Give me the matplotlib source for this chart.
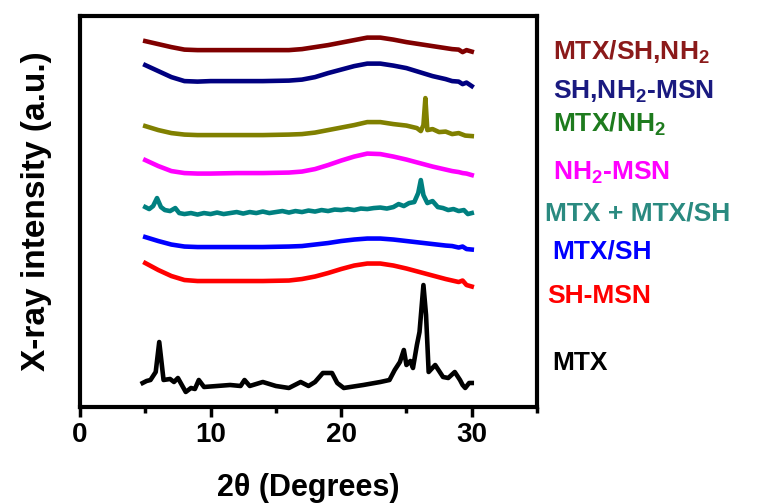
#!/usr/bin/env python
import matplotlib
matplotlib.use("Agg")
import matplotlib.pyplot as plt
from matplotlib.ticker import MultipleLocator

plt.rcParams['font.family'] = ['Liberation Sans', 'DejaVu Sans']
plt.rcParams['font.weight'] = 'bold'
plt.rcParams['mathtext.fontset'] = 'custom'
plt.rcParams['mathtext.rm'] = 'Liberation Sans:bold'
plt.rcParams['mathtext.bf'] = 'Liberation Sans:bold'

# XRD patterns (2theta in degrees, intensity in a.u. incl. vertical stacking offset)
x_smooth = [5, 6, 7, 8, 9, 10, 12, 14, 16, 17, 18, 19, 20, 21, 22, 23, 24, 25, 26, 27, 28, 28.5, 29, 29.3,
            29.6, 30]

mtx_sh_nh2 = [366, 363, 360, 357.5, 357, 357, 357, 357, 357, 358, 360, 362, 364.5, 367, 369.5, 369.5,
              367.5, 365, 363, 361, 359, 358, 357.5, 355, 357, 355.5]
sh_nh2_msn = [342, 336, 330, 326, 325.5, 326, 326, 326, 326.5, 327.5, 330, 334, 337.5, 341, 343.5, 343.5,
              341.5, 339, 335, 331, 328, 326, 325.5, 323, 324.5, 321]
nh2_msn = [247, 241, 236, 234, 233.5, 233.5, 234, 234, 234.5, 235.5, 238, 242, 246.5, 250.5, 253.5, 253,
           250.5, 247.5, 244, 240.5, 237.5, 236, 235, 234, 233.5, 232]
mtx_sh = [170, 166, 162.5, 160.5, 160, 160, 160, 160, 160.5, 161, 162.5, 164, 166, 167.5, 168.5, 168.5,
          167.5, 166, 164.5, 163, 161.5, 161, 159.5, 160.5, 158, 157.5]
sh_msn = [144, 137, 131, 127, 126, 126, 126, 126, 126.5, 128, 130.5, 134, 138, 141.5, 143.5, 143.5,
          141.5, 138.5, 135, 131.5, 128, 126.5, 125, 126.5, 122, 120.5]

x_mtx_nh2 = [5, 6, 7, 8, 9, 10, 12, 14, 16, 17, 18, 19, 20, 21, 22, 23, 24, 25, 25.8, 26.1, 26.3, 26.45,
             26.6, 27, 27.5, 28, 28.5, 29, 29.5, 30]
mtx_nh2 = [281, 277, 274, 272.5, 272, 272, 272, 272, 272.5, 273, 274.5, 277, 279.5, 282, 285, 285, 283,
           281.5, 279, 276, 282, 309, 277, 278, 275, 275.5, 273, 274, 271.5, 271]

x_mix = [5, 5.3, 5.6, 5.9, 6.2, 6.5, 6.9, 7.3, 7.6, 8, 8.5, 9, 9.5, 10, 10.5, 11, 11.5, 12, 12.5, 13,
         13.5, 14, 14.5, 15, 15.5, 16, 16.5, 17, 17.5, 18, 18.5, 19, 19.5, 20, 20.5, 21, 21.5, 22, 22.5,
         23, 23.5, 24, 24.4, 24.8, 25.2, 25.6, 25.9, 26.1, 26.3, 26.6, 27, 27.4, 27.8, 28.2, 28.6, 29,
         29.4, 29.7, 30]
mtx_mix = [200, 198, 201, 209, 200, 197, 196, 199, 194, 193, 194, 192.5, 194, 193, 194.5, 193, 194, 195,
           193.5, 195, 194, 195.5, 194, 195, 196, 194.5, 196, 195, 196.5, 195.5, 197, 196, 197.5, 197,
           198, 197, 198.5, 198, 199, 199.5, 198.5, 200, 203, 201, 204, 205, 214, 227, 212, 204, 206, 200,
           199, 197, 198, 196, 197, 193, 194]

x_mtx = [4.8, 5.1, 5.4, 5.8, 6.07, 6.4, 6.9, 7.2, 7.5, 8.1, 8.5, 8.8, 9.1, 9.5, 10.5, 11.5, 12.3, 12.6,
         13, 14, 15, 16, 16.9, 17.5, 18, 18.6, 19.3, 19.7, 20.2, 21.7, 23, 23.7, 24.1, 24.5, 24.8, 25.0,
         25.3, 25.5, 25.8, 26.0, 26.3, 26.5, 26.7, 27.2, 27.5, 27.8, 28.2, 28.7, 29.1, 29.3, 29.5, 29.8, 30]
mtx = [24, 26, 27, 35, 65, 27, 28, 25, 29, 15, 19, 18, 27, 20, 21, 22, 21, 27, 21, 25, 21, 19, 25, 21, 25,
       34, 34, 24, 19, 22, 25, 27, 37, 45, 57, 42, 46, 39, 62, 75, 122, 92, 35, 42, 36, 30, 29, 35, 27,
       22, 19, 24, 24]

curves = [
    (x_smooth, mtx_sh_nh2, '#800000'),
    (x_smooth, sh_nh2_msn, '#000080'),
    (x_mtx_nh2, mtx_nh2, '#808000'),
    (x_smooth, nh2_msn, '#ff00ff'),
    (x_mix, mtx_mix, '#008080'),
    (x_smooth, mtx_sh, '#0000ff'),
    (x_smooth, sh_msn, '#ff0000'),
    (x_mtx, mtx, '#000000'),
]

labels = [r'MTX/SH,NH$_\mathbf{2}$', r'SH,NH$_\mathbf{2}$-MSN', r'MTX/NH$_\mathbf{2}$',
          r'NH$_\mathbf{2}$-MSN', 'MTX + MTX/SH', 'MTX/SH', 'SH-MSN', 'MTX']
label_colors = ['#8b1a1a', '#1a1a80', '#1e7b1e', '#ff00ff', '#2a8a80', '#0000ff', '#ff0000', '#000000']
label_x = [36.2, 36.2, 36.2, 36.2, 35.6, 36.2, 35.8, 36.2]
label_y = [347.7, 308.7, 275.3, 227.7, 187, 148.7, 104.3, 37]

fig = plt.figure(figsize=(7.58, 5.04), dpi=100)
ax = fig.add_axes([0.1055, 0.1925, 0.603, 0.7755])

for xs, ys, c in curves:
    ax.plot(xs, ys, color=c, lw=3.3)

for s, c, lx, ly in zip(labels, label_colors, label_x, label_y):
    ax.text(lx, ly, s, color=c, fontsize=19, fontweight='bold', va='baseline', ha='left', clip_on=False)

ax.set_xlim(0, 35)
ax.set_ylim(0, 391)
ax.xaxis.set_major_locator(MultipleLocator(10))
ax.xaxis.set_minor_locator(MultipleLocator(5))
ax.tick_params(axis='x', which='major', direction='out', length=7, width=2.5, labelsize=20, pad=4)
ax.tick_params(axis='x', which='minor', direction='out', length=4, width=2.5)
ax.set_yticks([])
for sp in ax.spines.values():
    sp.set_linewidth(3)

ax.set_xlabel('2θ (Degrees)', fontsize=22, fontweight='bold', labelpad=18)
ax.set_ylabel('X-ray intensity (a.u.)', fontsize=24, fontweight='bold', labelpad=20)

plt.savefig("out.png", dpi=100)
